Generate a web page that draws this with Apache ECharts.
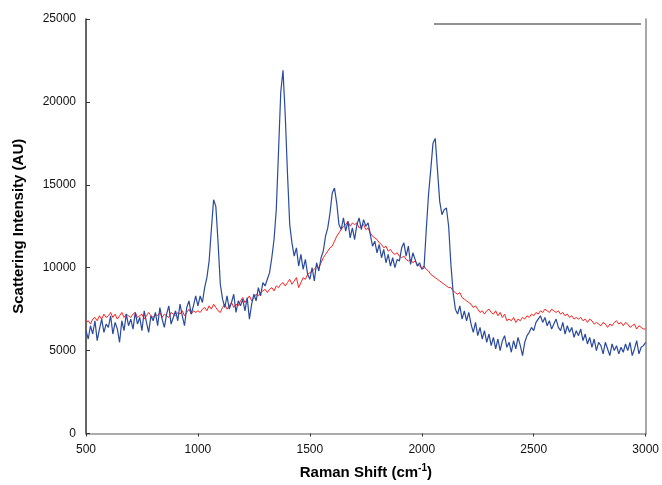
<!DOCTYPE html>
<html>
<head>
<meta charset="utf-8">
<script src="https://cdn.jsdelivr.net/npm/echarts@6/dist/echarts.min.js"></script>
<style>html,body{margin:0;padding:0;background:#fff}#c{width:662px;height:485px}</style>
</head>
<body>
<div id="c"></div>
<script>
var xStart = 500, xStep = 10;
var xTicks = [500, 1000, 1500, 2000, 2500, 3000];
var yTicks = [0, 5000, 10000, 15000, 20000, 25000];
var blueValues = [
6200,5700,6500,6000,6800,5600,6300,6900,6100,6600,
6400,7100,6000,6700,6300,5500,6800,6200,7200,6500,
6900,6300,7300,6600,7000,6200,7400,6700,6100,7100,
6800,7300,6500,7600,6900,6400,7200,7700,6600,7000,
7400,6800,7800,7100,6500,7600,8000,7200,7700,8300,
7700,8300,7900,8800,9400,10400,12300,14100,13700,11500,
9000,8100,7600,8300,7500,7900,8400,7300,8000,7700,
8100,7400,8200,6900,7800,8400,8000,8800,8300,9100,
8900,9300,9700,10600,11700,13500,17000,20600,21900,19200,
15700,12600,11500,10700,11200,10100,10800,9900,10500,9600,
9300,10000,9200,10300,9800,10600,11000,11900,12400,13300,
14500,14800,13900,12600,12300,13000,12200,12800,11800,12400,
11700,12600,13000,12300,12900,12500,12700,12000,11300,11600,
10900,11400,10600,11100,10300,10800,10100,10600,10000,10500,
10400,11200,11500,10700,11300,10200,10900,10500,10100,10300,
9900,10000,12300,14400,15900,17500,17800,15900,14000,13200,
13500,13600,12500,10200,8500,7500,7200,7700,6900,7400,
6800,7300,6600,6100,6700,5900,6400,5700,6200,5500,
6000,5300,5800,5100,5700,5000,5600,5900,5200,5500,
4900,5600,5100,5800,5300,4700,5500,5900,6100,6400,
6200,6700,6900,7100,6700,7000,6500,6800,6300,6600,
6900,6400,6200,6700,6000,6500,6100,6400,5800,6200,
5900,6300,5600,6000,5400,5800,5200,5700,5000,5500,
5300,4800,5500,5100,4700,5400,5000,5300,4800,5200,
4900,5400,5000,5500,4700,5100,5600,4800,5200,5300,
5500
];
var redValues = [
6700,6800,6600,6900,7000,6800,7100,6900,7200,7000,
7100,7300,7000,7200,6900,7100,7300,7000,7200,7100,
7000,7200,7300,7000,7100,7200,6900,7100,7300,7100,
7000,7200,7100,7300,7000,7200,7100,7000,7300,7200,
7100,7300,7200,7400,7100,7300,7500,7200,7400,7300,
7400,7300,7500,7600,7400,7700,7500,7800,7600,7400,
7300,7600,7800,7500,7700,7900,7600,7800,7700,8000,
8200,7900,8100,8300,8000,8200,8400,8300,8500,8600,
8700,8500,8700,8800,8600,8900,8800,9000,9100,8900,
9100,9300,9000,9200,9400,8800,9100,9400,9300,9600,
9700,9800,9900,10100,10000,10300,10600,10800,11000,11200,
11300,11600,11900,12100,12300,12500,12600,12800,12500,12700,
12600,12700,12400,12500,12600,12300,12400,12100,11900,11800,
11700,11500,11400,11200,11300,11000,11100,10900,10800,10900,
10700,10600,10700,10500,10400,10500,10300,10400,10200,10100,
10000,10100,9900,9800,9600,9500,9400,9300,9200,9100,
9000,8900,8800,8800,8600,8500,8400,8500,8200,8100,
8000,7900,7800,7600,7700,7500,7300,7400,7200,7400,
7500,7300,7200,7400,7100,7300,7000,7200,6800,6900,
6800,7000,6700,6900,6800,7000,6900,7100,7000,7200,
7100,7300,7200,7400,7300,7500,7400,7300,7500,7400,
7300,7400,7200,7300,7100,7200,7000,7100,6900,7000,
6900,7000,6800,6900,6700,6900,6800,6600,6700,6600,
6500,6700,6600,6400,6600,6500,6700,6800,6600,6700,
6500,6700,6600,6400,6500,6600,6300,6500,6400,6300,
6300
];
function pairs(vals){ return vals.map(function(v,i){ return [xStart + i*xStep, v]; }); }
var chart = echarts.init(document.getElementById('c'), null, {renderer:'canvas'});
var font = 'Liberation Sans, Arial, sans-serif';
chart.setOption({
  animation:false,
  backgroundColor:'#fff',
  grid:{left:86, right:15, top:19, bottom:51, show:false},
  xAxis:[{
    type:'value', min:xTicks[0], max:xTicks[xTicks.length-1], interval:500,
    axisLine:{show:true, onZero:false, lineStyle:{color:'#333', width:1.5}},
    axisTick:{show:true, inside:false, length:3, lineStyle:{color:'#333'}},
    axisLabel:{color:'#111', fontSize:12, fontFamily:font, margin:10, formatter:function(v){return String(v);}},
    splitLine:{show:false},
    name:'Raman Shift (cm{sup|-1})', nameLocation:'middle', nameGap:30,
    nameTextStyle:{fontSize:15, fontWeight:'bold', fontFamily:font, color:'#000',
      rich:{sup:{fontSize:10, fontWeight:'bold', fontFamily:font, color:'#000', verticalAlign:'top', padding:[0,0,8,0]}}}
  },{
    type:'value', position:'top', min:500, max:3000,
    axisLine:{show:true, lineStyle:{color:'#c4c4c4', width:1.5}},
    axisTick:{show:false}, axisLabel:{show:false}, splitLine:{show:false}
  }],
  yAxis:[{
    type:'value', min:yTicks[0], max:yTicks[yTicks.length-1], interval:5000,
    axisLine:{show:true, onZero:false, lineStyle:{color:'#333', width:1.5}},
    axisTick:{show:true, inside:true, length:4, lineStyle:{color:'#333'}},
    axisLabel:{color:'#111', fontSize:12, fontFamily:font, margin:10, formatter:function(v){return String(v);}},
    splitLine:{show:false},
    name:'Scattering Intensity (AU)', nameLocation:'middle', nameGap:60,
    nameTextStyle:{fontSize:15, fontWeight:'bold', fontFamily:font, color:'#000'}
  },{
    type:'value', position:'right', min:0, max:25000,
    axisLine:{show:true, lineStyle:{color:'#8a8a8a', width:1.5}},
    axisTick:{show:false}, axisLabel:{show:false}, splitLine:{show:false}
  }],
  graphic:[{type:'line', shape:{x1:434, y1:24, x2:641, y2:24}, style:{stroke:'#6e6e6e', lineWidth:1.5}, z:10}],
  series:[
    {type:'line', name:'red', data:pairs(redValues), showSymbol:false, lineStyle:{color:'#ff2020', width:1}, z:2},
    {type:'line', name:'blue', data:pairs(blueValues), showSymbol:false, lineStyle:{color:'#2a4aa0', width:1.2}, z:3}
  ]
});
</script>
</body>
</html>
